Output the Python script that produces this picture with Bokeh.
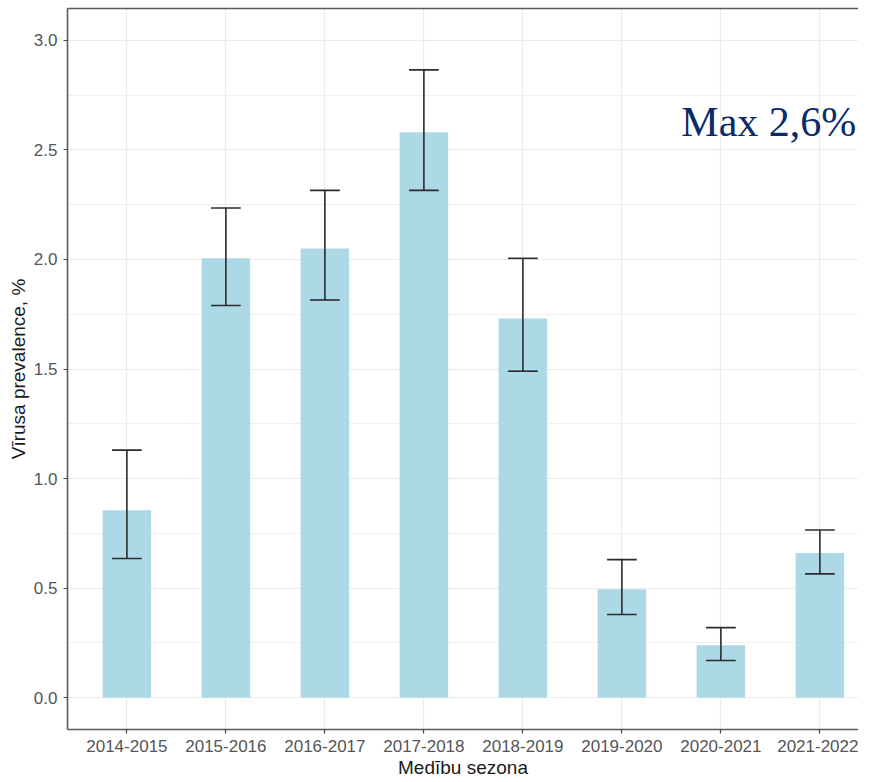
from bokeh.plotting import figure
from bokeh.models import (Range1d, FixedTicker, SingleIntervalTicker, LinearAxis,
                          ColumnDataSource, Label)
from bokeh.embed import file_html
from bokeh.resources import INLINE

# ---- data ----
seasons = ["2014-2015", "2015-2016", "2016-2017", "2017-2018",
           "2018-2019", "2019-2020", "2020-2021", "2021-2022"]
prevalence = [0.855, 2.005, 2.05, 2.58, 1.73, 0.495, 0.24, 0.66]
ci_lower = [0.635, 1.79, 1.815, 2.315, 1.49, 0.38, 0.17, 0.565]
ci_upper = [1.13, 2.235, 2.315, 2.865, 2.005, 0.63, 0.32, 0.765]
y_ticks = [0.0, 0.5, 1.0, 1.5, 2.0, 2.5, 3.0]
annotation = "Max 2,6%"

xpos = list(range(1, len(seasons) + 1))
bar_w = 0.49
cap_half = 0.15

src = ColumnDataSource(dict(
    x=xpos, top=prevalence, lo=ci_lower, hi=ci_upper,
    cx0=[x - cap_half for x in xpos], cx1=[x + cap_half for x in xpos],
))

p = figure(width=858, height=780, output_backend="svg", toolbar_location=None,
           x_range=Range1d(0.4, 8.39), y_range=Range1d(-0.145, 3.145),
           min_border_left=67, min_border_top=8, min_border_right=0, min_border_bottom=0,
           background_fill_color="white", border_fill_color="white")
p.outline_line_color = None

# grid
p.xaxis.ticker = FixedTicker(ticks=xpos)
p.xaxis.major_label_overrides = {x: s for x, s in zip(xpos, seasons)}
p.yaxis.ticker = SingleIntervalTicker(interval=0.5, num_minor_ticks=2)
p.xgrid.grid_line_color = "#EBEBEB"
p.xgrid.grid_line_width = 1.2
p.ygrid.grid_line_color = "#EBEBEB"
p.ygrid.grid_line_width = 1.2
p.ygrid.minor_grid_line_color = "#EFEFEF"
p.ygrid.minor_grid_line_width = 1

# bars
p.vbar(x="x", top="top", bottom=0, width=bar_w, source=src,
       fill_color="#ADD8E6", line_color=None)

# error bars
ecol = "#2b2b2b"
p.segment(x0="x", y0="lo", x1="x", y1="hi", source=src, line_color=ecol, line_width=1.6)
p.segment(x0="cx0", y0="hi", x1="cx1", y1="hi", source=src, line_color=ecol, line_width=1.6)
p.segment(x0="cx0", y0="lo", x1="cx1", y1="lo", source=src, line_color=ecol, line_width=1.6)

# axes styling
axis_col = "#5a5a5a"
for ax in (p.xaxis[0], p.yaxis[0]):
    ax.axis_line_color = axis_col
    ax.axis_line_width = 1.6
    ax.major_tick_line_color = "#444444"
    ax.major_tick_line_width = 1.2
    ax.major_tick_out = 4
    ax.major_tick_in = 0
    ax.minor_tick_line_color = None
    ax.major_label_text_font = "Liberation Sans"
    ax.major_label_text_font_size = "17px"
    ax.major_label_text_color = "#555555"
    ax.axis_label_text_font = "Liberation Sans"
    ax.axis_label_text_font_size = "19px"
    ax.axis_label_text_font_style = "normal"
    ax.axis_label_text_color = "#1a1a1a"
    ax.major_label_standoff = 6
    ax.axis_label_standoff = 2

p.xaxis.major_label_standoff = 6
p.xaxis.axis_label = "Medību sezona"
p.yaxis.axis_label = "Vīrusa prevalence, %"
p.yaxis.major_label_overrides = {t: f"{t:.1f}" for t in y_ticks}

# top border line
top_ax = LinearAxis(ticker=FixedTicker(ticks=[]), axis_line_color=axis_col,
                    axis_line_width=1.6, major_tick_line_color=None,
                    minor_tick_line_color=None, major_label_text_font_size="0px")
p.add_layout(top_ax, "above")

# annotation
p.add_layout(Label(x=6.6, y=2.625, text=annotation, text_font="Liberation Serif",
                   text_font_size="42px", text_color="#0B2A6B",
                   text_baseline="alphabetic", text_align="left"))

open("out.html", "w").write(file_html(p, INLINE))
